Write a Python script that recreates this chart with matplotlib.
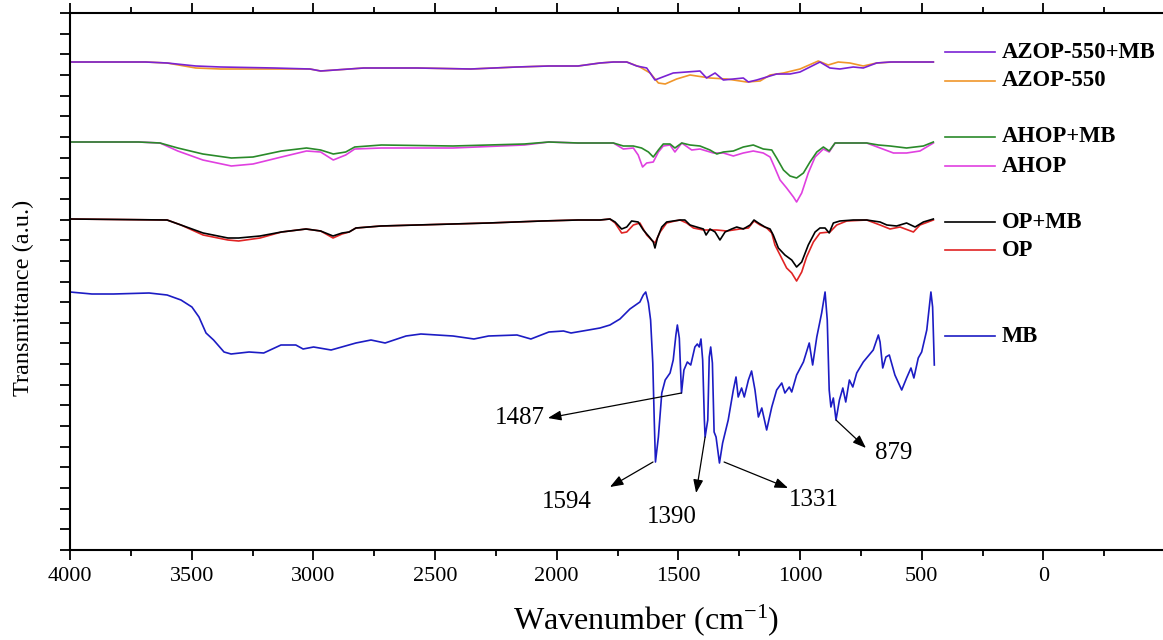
import numpy as np
import matplotlib
matplotlib.use("Agg")
import matplotlib.pyplot as plt
from matplotlib.ticker import FixedLocator

plt.rcParams['font.family'] = ['Liberation Serif', 'DejaVu Serif']
plt.rcParams['mathtext.fontset'] = 'custom'
plt.rcParams['mathtext.rm'] = 'Liberation Serif'
plt.rcParams['mathtext.it'] = 'Liberation Serif:italic'

# FTIR spectra, stacked (transmittance in arbitrary units)
mb_wn = [4000, 3910, 3821, 3675, 3601, 3544, 3499, 3470, 3441, 3410, 3367, 3338, 3264, 3204, 3133, 3072,
         3042, 2999, 2927, 2825, 2763, 2705, 2619, 2558, 2426, 2340, 2280, 2163, 2106, 2032, 1972, 1941,
         1869, 1822, 1781, 1740, 1699, 1658, 1644, 1634, 1623, 1614, 1605, 1599, 1594, 1582, 1568, 1554,
         1534, 1521, 1510, 1504, 1496, 1487, 1477, 1463, 1449, 1432, 1422, 1414, 1407, 1400, 1393, 1390,
         1379, 1373, 1367, 1360, 1353, 1345, 1331, 1318, 1295, 1274, 1263, 1254, 1240, 1229, 1212, 1199,
         1185, 1171, 1157, 1137, 1116, 1096, 1075, 1062, 1044, 1034, 1014, 986, 962, 948, 931, 911, 897,
         888, 880, 873, 863, 852, 838, 824, 812, 797, 783, 767, 740, 699, 678, 671, 660, 647, 633, 610,
         582, 562, 544, 532, 514, 500, 479, 462, 455, 448]
mb_t = [258, 256, 256, 257, 255, 250, 243, 233, 217, 210, 198, 196, 198, 197, 205, 205,
        201, 203, 200, 207, 210, 207, 214, 216, 214, 211, 214, 215, 211, 218, 219, 217,
        220, 222, 225, 231, 241, 248, 255, 258, 247, 230, 187, 130, 88, 113, 157, 170,
        177, 190, 215, 225, 212, 157, 180, 188, 185, 203, 206, 203, 211, 190, 130, 113,
        130, 193, 203, 187, 118, 113, 87, 107, 130, 160, 173, 153, 162, 153, 170, 179,
        160, 133, 142, 120, 143, 160, 167, 157, 163, 158, 175, 188, 207, 185, 213, 237, 258,
        230, 160, 143, 152, 130, 150, 162, 148, 170, 163, 177, 188, 200, 215, 208, 182, 193, 195, 175,
        160, 172, 182, 172, 192, 198, 220, 258, 243, 185]

opmb_wn = [4000, 3601, 3544, 3453, 3351, 3307, 3219, 3131, 3030, 2970, 2919, 2882, 2853, 2825, 2722, 2574,
           2280, 2060, 1912, 1822, 1781, 1760, 1733, 1712, 1692, 1665, 1644, 1619, 1603, 1596, 1586, 1568,
           1548, 1521, 1493, 1473, 1452, 1425, 1397, 1386, 1370, 1349, 1329, 1308, 1281, 1260, 1233, 1205,
           1189, 1171, 1144, 1123, 1110, 1089, 1062, 1034, 1014, 993, 966, 938, 918, 897, 880, 863, 836,
           781, 726, 671, 643, 603, 562, 527, 493, 452]
opmb_t = [331, 330, 325, 317, 312, 312, 314, 318, 321, 319, 314, 317, 318, 322, 324, 325,
          327, 329, 330, 330, 331, 328, 321, 323, 329, 328, 320, 313, 308, 302, 312, 323,
          328, 329, 330, 330, 325, 323, 321, 315, 321, 318, 310, 318, 321, 323, 321, 325,
          330, 327, 323, 321, 315, 302, 295, 290, 283, 288, 305, 318, 322, 322, 317, 327, 329,
          330, 330, 328, 325, 324, 327, 323, 328, 331]

op_wn = [4000, 3601, 3544, 3453, 3351, 3307, 3219, 3131, 3030, 2970, 2919, 2882, 2853, 2825, 2722, 2574,
         2280, 2060, 1912, 1822, 1781, 1760, 1733, 1712, 1685, 1658, 1630, 1610, 1596, 1575, 1548, 1514,
         1493, 1466, 1438, 1397, 1342, 1301, 1247, 1212, 1189, 1164, 1137, 1116, 1103, 1082, 1055, 1034,
         1014, 993, 973, 945, 918, 877, 849, 808, 726, 671, 630, 589, 534, 507, 452]
op_t = [331, 330, 325, 315, 310, 309, 312, 318, 321, 319, 312, 316, 318, 322, 324, 325,
        327, 329, 330, 330, 331, 327, 317, 318, 325, 327, 315, 310, 307, 318, 327, 329,
        330, 327, 322, 320, 320, 319, 321, 322, 329, 325, 322, 317, 305, 295, 282, 277,
        269, 278, 293, 308, 317, 318, 325, 329, 330, 325, 321, 323, 318, 325, 330]

ahopmb_wn = [4000, 3718, 3630, 3557, 3454, 3337, 3248, 3131, 3028, 2970, 2918, 2867, 2830, 2720, 2426, 2133,
             2032, 1912, 1822, 1767, 1726, 1685, 1651, 1623, 1603, 1582, 1562, 1534, 1514, 1486, 1452, 1411,
             1370, 1342, 1315, 1274, 1233, 1192, 1151, 1116, 1096, 1068, 1041, 1014, 986, 959, 931, 904,
             880, 856, 808, 726, 678, 630, 562, 493, 452]
ahopmb_t = [408, 408, 407, 402, 396, 392, 393, 399, 402, 400, 396, 398, 403, 405, 404, 406,
            408, 407, 407, 407, 404, 404, 402, 398, 393, 400, 406, 406, 402, 407, 405, 404,
            400, 396, 398, 399, 403, 405, 401, 400, 392, 380, 374, 372, 377, 388, 398, 403,
            399, 407, 407, 407, 405, 404, 402, 404, 408]

ahop_wn = [4000, 3718, 3630, 3557, 3454, 3337, 3248, 3131, 3028, 2970, 2918, 2867, 2830, 2720, 2426, 2133,
           2032, 1912, 1822, 1767, 1726, 1685, 1665, 1647, 1630, 1603, 1582, 1562, 1534, 1514, 1486, 1445,
           1411, 1356, 1315, 1274, 1233, 1192, 1151, 1123, 1103, 1082, 1055, 1027, 1014, 993, 966, 938,
           904, 880, 856, 726, 671, 616, 562, 507, 452]
ahop_t = [408, 408, 407, 399, 390, 384, 386, 393, 399, 398, 390, 395, 401, 402, 402, 405,
          408, 407, 407, 407, 401, 402, 395, 383, 387, 388, 398, 404, 405, 398, 407, 400,
          401, 397, 397, 394, 397, 399, 397, 393, 382, 370, 362, 353, 348, 357, 377, 393,
          401, 398, 407, 407, 402, 397, 397, 399, 407]

azopmb_wn = [4000, 3689, 3601, 3483, 3381, 3160, 3014, 2970, 2911, 2793, 2574, 2353, 2163, 2032, 1912, 1822,
             1767, 1712, 1671, 1630, 1596, 1575, 1521, 1466, 1411, 1384, 1349, 1315, 1274, 1233, 1212, 1178,
             1137, 1096, 1041, 1000, 959, 918, 877, 836, 781, 740, 685, 630, 548, 452]
azopmb_t = [488, 488, 487, 484, 483, 482, 481, 479, 480, 482, 482, 481, 483, 484, 484, 487,
            488, 488, 484, 482, 470, 472, 477, 478, 479, 472, 477, 470, 471, 472, 468, 470,
            473, 476, 476, 478, 483, 488, 482, 481, 483, 482, 487, 488, 488, 488]

azop_wn = [4000, 3689, 3601, 3483, 3381, 3160, 3014, 2970, 2911, 2793, 2574, 2353, 2163, 2032, 1912, 1822,
           1767, 1712, 1658, 1616, 1582, 1554, 1507, 1452, 1370, 1301, 1219, 1164, 1123, 1068, 1000, 925,
           884, 843, 795, 740, 685, 616, 452]
azop_t = [488, 488, 487, 482, 481, 481, 481, 479, 480, 482, 482, 481, 483, 484, 484, 487,
          488, 488, 483, 477, 467, 466, 471, 475, 472, 471, 468, 469, 475, 477, 481, 489,
          485, 488, 487, 484, 487, 488, 488]

labels = ['AZOP-550+MB', 'AZOP-550', 'AHOP+MB', 'AHOP', 'OP+MB', 'OP', 'MB']
colors = ['#7a22d4', '#f0962a', '#2a8a2a', '#e040e0', '#000000', '#e02424', '#1c1cc4']
label_y = [498, 469, 413, 384, 328, 300, 214]

# marked MB bands: (band, curve point, arrow head, text position)
peaks = ['1487', '1594', '1390', '1331', '879']
peak_xy = [(1487, 157), (1604, 88), (1390, 113), (1312, 88), (852, 130)]
head_xy = [(2036, 132), (1781, 63), (1427, 57), (1049, 62), (729, 102)]
text_xy = [(2151, 132), (1958, 48), (1526, 33), (942, 50), (614, 97)]

fig = plt.figure(figsize=(11.63, 6.4), dpi=100)
ax = fig.add_axes([70 / 1163, 90 / 640, 1095 / 1163, 537 / 640])

series = [(azop_wn, azop_t, 1), (azopmb_wn, azopmb_t, 0),
          (ahop_wn, ahop_t, 3), (ahopmb_wn, ahopmb_t, 2),
          (op_wn, op_t, 5), (opmb_wn, opmb_t, 4),
          (mb_wn, mb_t, 6)]
for wn, t, i in series:
    ax.plot(wn, t, color=colors[i], lw=1.2)

# legend-like labels at the right
for lab, col, y in zip(labels, colors, label_y):
    ax.plot([405, 200], [y, y], color=col, lw=1.2)
    ax.text(172, y, lab, fontsize=16.3, fontweight='bold', va='center', ha='left')

for name, p, h, tx in zip(peaks, peak_xy, head_xy, text_xy):
    ax.annotate('', xy=h, xytext=p,
                arrowprops=dict(arrowstyle='-|>,head_length=0.8,head_width=0.3', color='black',
                                lw=0.9, shrinkA=0, shrinkB=0))
    ax.text(tx[0], tx[1], name, fontsize=18, ha='center', va='center')

ax.set_xlim(4000, -500)
ax.set_ylim(0, 537)
ax.xaxis.set_major_locator(FixedLocator(np.arange(4000, -1, -500)))
ax.xaxis.set_minor_locator(FixedLocator(np.arange(3750, -400, -500)))
ax.yaxis.set_major_locator(FixedLocator(np.linspace(0, 537, 27)))
ax.set_yticklabels([])
ax.tick_params(axis='x', which='major', direction='out', length=7.5, width=1.3,
               labelsize=16, pad=5, top=True)
ax.tick_params(axis='x', which='minor', direction='out', length=4, width=1.3, top=True)
ax.tick_params(axis='y', which='major', direction='out', length=7.5, width=1.3)
for s in ['left', 'bottom', 'top']:
    ax.spines[s].set_linewidth(1.5)
ax.spines['right'].set_visible(False)

ax.set_xlabel('Wavenumber (cm$^{-1}$)', fontsize=23)
ax.xaxis.set_label_coords(0.526, -0.098)
ax.set_ylabel('Transmittance (a.u.)', fontsize=17.5)
ax.yaxis.set_label_coords(-0.033, 0.47)

fig.savefig('out.png', dpi=100)
